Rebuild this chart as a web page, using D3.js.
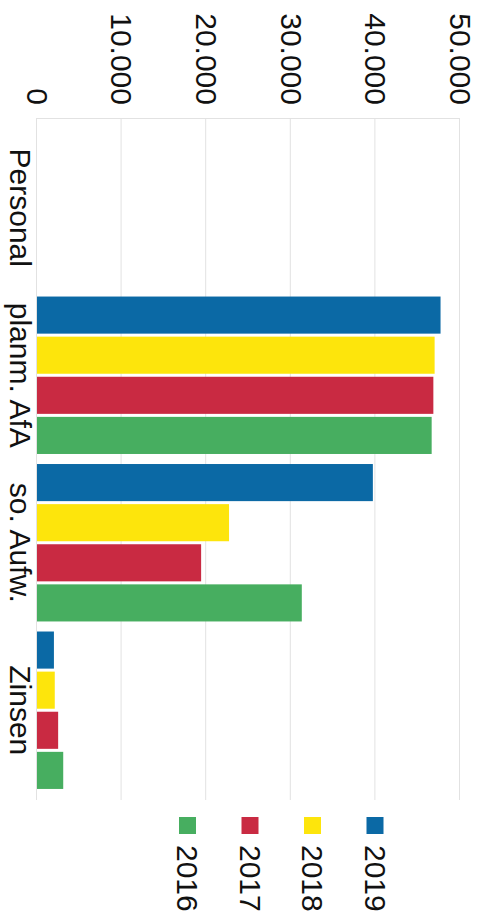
<!DOCTYPE html>
<html><head><meta charset="utf-8">
<script src="https://cdn.jsdelivr.net/npm/d3@7"></script>
<style>html,body{margin:0;padding:0;background:#fff;}svg{display:block;}</style>
</head><body>
<script>
const categories = ["Personal", "planm. AfA", "so. Aufw.", "Zinsen"];
const years = ["2019", "2018", "2017", "2016"];
const values2019 = [0, 47700, 39700, 2000];
const values2018 = [0, 47000, 22700, 2100];
const values2017 = [0, 46850, 19400, 2500];
const values2016 = [0, 46650, 31300, 3100];
const tickValues = [0, 10000, 20000, 30000, 40000, 50000];
const tickLabels = ["0", "10.000", "20.000", "30.000", "40.000", "50.000"];
const colors = ["#0b69a5", "#fde50c", "#c92a42", "#47ae60"];

const seriesValues = [values2019, values2018, values2017, values2016];
const W = 486, H = 915;
const font = "'Liberation Sans', Arial, sans-serif";

const svg = d3.select("body").append("svg").attr("width", W).attr("height", H);
// chart built in unrotated frame (width 915, height 486), then rotated 90° clockwise
const g = svg.append("g").attr("transform", `translate(${W},0) rotate(90)`);

const x0 = d3.scaleBand().domain(categories).range([118, 800]).paddingInner(0.06).paddingOuter(0.066);
const x1 = d3.scaleBand().domain(years).range([0, x0.bandwidth()]).paddingInner(0.075);
const y = d3.scaleLinear().domain([0, 50000]).range([449, 26]);
const color = d3.scaleOrdinal().domain(years).range(colors);

const axis = d3.axisLeft(y).tickValues(tickValues)
  .tickFormat((d, i) => tickLabels[i])
  .tickSizeInner(-(800 - 118)).tickSizeOuter(0).tickPadding(13);
const ag = g.append("g").attr("transform", "translate(118,0)").call(axis);
ag.select(".domain").attr("stroke", "#e2e2e2");
ag.selectAll(".tick line").attr("stroke", "#e2e2e2").attr("stroke-width", 1);
ag.selectAll(".tick text").attr("font-family", font).attr("font-size", 30).attr("fill", "#111");

// bars
const rows = [];
categories.forEach((c, ci) => years.forEach((yr, si) => rows.push({c, yr, v: seriesValues[si][ci]})));
g.append("g").selectAll("rect").data(rows).join("rect")
  .attr("x", d => x0(d.c) + x1(d.yr))
  .attr("width", x1.bandwidth())
  .attr("y", d => y(d.v))
  .attr("height", d => y(0) - y(d.v))
  .attr("fill", d => color(d.yr));

// category labels
g.append("g").selectAll("text").data(categories).join("text")
  .attr("x", d => x0(d) + x0.bandwidth() / 2)
  .attr("y", 476)
  .attr("text-anchor", "middle")
  .attr("font-family", font).attr("font-size", 30).attr("fill", "#111")
  .text(d => d);

// legend
const leg = g.append("g").selectAll("g").data(years).join("g")
  .attr("transform", (d, i) => `translate(817,${111 + i * 62.5})`);
leg.append("rect").attr("x", 0).attr("y", -8.5).attr("width", 17).attr("height", 17).attr("fill", d => color(d));
leg.append("text").attr("x", 28).attr("y", 0).attr("dy", "0.35em")
  .attr("font-family", font).attr("font-size", 30).attr("fill", "#111").text(d => d);
</script>
</body></html>
